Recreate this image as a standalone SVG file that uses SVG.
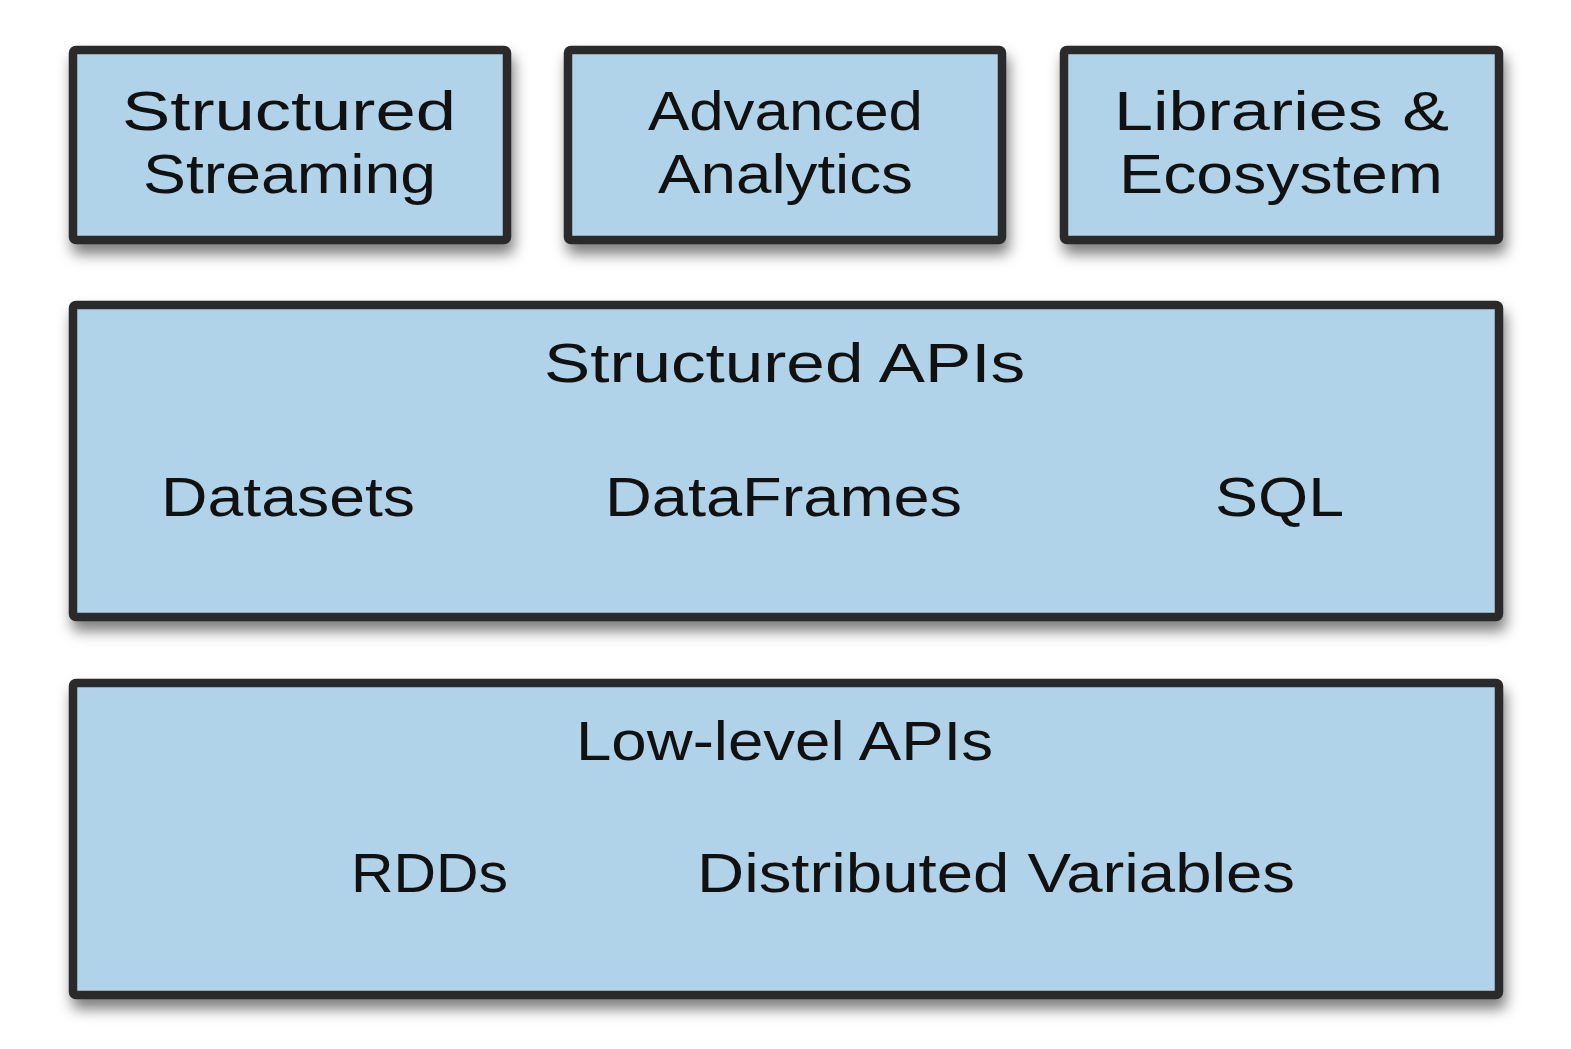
<svg xmlns="http://www.w3.org/2000/svg" width="1571" height="1049" viewBox="0 0 1571 1049">
<style>
.box{fill:#b1d3ea;stroke:#2b2b2b;stroke-width:8.5;stroke-linejoin:round}
.t{font-family:"Liberation Sans","DejaVu Sans",sans-serif;font-size:56px;fill:#111;}
</style>
<defs>
<filter id="sh" x="-5%" y="-10%" width="115%" height="130%">
<feDropShadow dx="3" dy="10" stdDeviation="7" flood-color="#000" flood-opacity="0.5"/>
</filter>
</defs>
<rect width="1571" height="1049" fill="#fff"/>
<g id="structured-streaming">
<rect class="box" filter="url(#sh)" x="73" y="50" width="434" height="190" rx="3"/>
<text class="t" x="122" y="130" textLength="334" lengthAdjust="spacingAndGlyphs">Structured</text>
<text class="t" x="143" y="193" textLength="293" lengthAdjust="spacingAndGlyphs">Streaming</text>
</g>
<g id="advanced-analytics">
<rect class="box" filter="url(#sh)" x="568" y="50" width="434" height="190" rx="3"/>
<text class="t" x="648" y="130" textLength="275" lengthAdjust="spacingAndGlyphs">Advanced</text>
<text class="t" x="658" y="193" textLength="255" lengthAdjust="spacingAndGlyphs">Analytics</text>
</g>
<g id="libraries-ecosystem">
<rect class="box" filter="url(#sh)" x="1064" y="50" width="435" height="190" rx="3"/>
<text class="t" x="1114" y="130" textLength="335" lengthAdjust="spacingAndGlyphs">Libraries &amp;</text>
<text class="t" x="1119" y="193" textLength="324" lengthAdjust="spacingAndGlyphs">Ecosystem</text>
</g>
<g id="structured-apis">
<rect class="box" filter="url(#sh)" x="73" y="305" width="1426" height="312" rx="3"/>
<text class="t" x="544" y="382" textLength="481" lengthAdjust="spacingAndGlyphs">Structured APIs</text>
<text class="t" x="161" y="516" textLength="254" lengthAdjust="spacingAndGlyphs">Datasets</text>
<text class="t" x="605" y="516" textLength="357" lengthAdjust="spacingAndGlyphs">DataFrames</text>
<text class="t" x="1215" y="516" textLength="129" lengthAdjust="spacingAndGlyphs">SQL</text>
</g>
<g id="low-level-apis">
<rect class="box" filter="url(#sh)" x="73" y="683" width="1426" height="312" rx="3"/>
<text class="t" x="576" y="760" textLength="417" lengthAdjust="spacingAndGlyphs">Low-level APIs</text>
<text class="t" x="351" y="892" textLength="157" lengthAdjust="spacingAndGlyphs">RDDs</text>
<text class="t" x="697" y="892" textLength="598" lengthAdjust="spacingAndGlyphs">Distributed Variables</text>
</g>
<g id="connectors"/>
</svg>
